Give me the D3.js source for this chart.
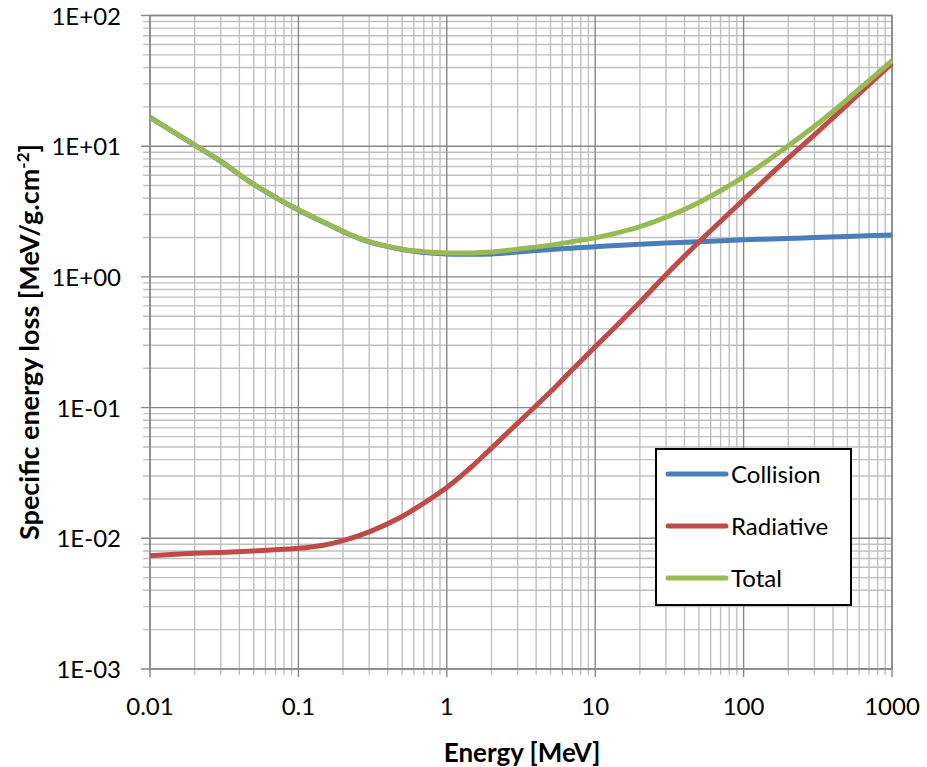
<!DOCTYPE html>
<html>
<head>
<meta charset="utf-8">
<script src="https://cdn.jsdelivr.net/npm/d3@7"></script>
<style>
  body { margin: 0; background: #fff; }
  text { font-family: Lato, "Open Sans", sans-serif; fill: #000; }
</style>
</head>
<body>
<div class="chart"></div>
<script>
// energies in MeV
const energy = [0.01, 0.02, 0.03, 0.05, 0.1, 0.15, 0.2, 0.3, 0.5, 0.7, 1, 1.5, 2, 3, 5, 7, 10, 15, 20, 30, 50, 100, 200, 300, 500, 1000];
const collision = [16.6, 10.2, 7.65, 5.1, 3.25, 2.6, 2.22, 1.85, 1.62, 1.54, 1.50, 1.49, 1.50, 1.55, 1.62, 1.66, 1.70, 1.75, 1.78, 1.82, 1.86, 1.92, 1.97, 2.0, 2.04, 2.09];
const radiative = [0.00736, 0.00767, 0.0078, 0.0080, 0.00838, 0.0089, 0.0096, 0.0112, 0.0147, 0.0186, 0.0245, 0.036, 0.049, 0.076, 0.132, 0.195, 0.292, 0.46, 0.64, 1.04, 1.85, 3.9, 8.1, 12.2, 20.8, 43];
const total = [16.6, 10.2, 7.66, 5.11, 3.26, 2.61, 2.23, 1.86, 1.63, 1.56, 1.525, 1.525, 1.55, 1.63, 1.75, 1.86, 1.99, 2.21, 2.42, 2.86, 3.71, 5.82, 10.07, 14.2, 22.84, 45.1];

const xTicks = [0.01, 0.1, 1, 10, 100, 1000];
const xTickLabels = ["0.01", "0.1", "1", "10", "100", "1000"];
const yTicks = [0.001, 0.01, 0.1, 1, 10, 100];
const yTickLabels = ["1E-03", "1E-02", "1E-01", "1E+00", "1E+01", "1E+02"];

const seriesNames = ["Collision", "Radiative", "Total"];
const seriesColors = ["#4a7ebb", "#be4b48", "#98b954"];

const w = 927, h = 767;
const margin = { top: 15.5, right: 35, bottom: 98, left: 150 };

const svg = d3.select(".chart").append("svg")
  .attr("width", w)
  .attr("height", h);

const x = d3.scaleLog().domain([0.01, 1000]).range([margin.left, w - margin.right]);
const y = d3.scaleLog().domain([0.001, 100]).range([h - margin.bottom, margin.top]);

// minor values for grid (2..9 in each decade)
const minorX = [], minorY = [];
for (let p = -2; p < 3; p++) for (let k = 2; k <= 9; k++) minorX.push(k * Math.pow(10, p));
for (let p = -3; p < 2; p++) for (let k = 2; k <= 9; k++) minorY.push(k * Math.pow(10, p));

const grid = svg.append("g");
grid.selectAll(".mx").data(minorX).enter().append("line")
  .attr("x1", d => x(d)).attr("x2", d => x(d))
  .attr("y1", y.range()[1]).attr("y2", y.range()[0] + 6)
  .attr("stroke", "#c0c0c0").attr("stroke-width", 1.4);
grid.selectAll(".my").data(minorY).enter().append("line")
  .attr("x1", x.range()[0] - 7).attr("x2", x.range()[1])
  .attr("y1", d => y(d)).attr("y2", d => y(d))
  .attr("stroke", "#c0c0c0").attr("stroke-width", 1.4);
grid.selectAll(".Mx").data(xTicks).enter().append("line")
  .attr("x1", d => x(d)).attr("x2", d => x(d))
  .attr("y1", y.range()[1]).attr("y2", y.range()[0] + 8)
  .attr("stroke", "#878787").attr("stroke-width", 1.4);
grid.selectAll(".My").data(yTicks).enter().append("line")
  .attr("x1", x.range()[0] - 9).attr("x2", x.range()[1])
  .attr("y1", d => y(d)).attr("y2", d => y(d))
  .attr("stroke", "#878787").attr("stroke-width", 1.4);

// plot frame
svg.append("rect")
  .attr("x", x.range()[0]).attr("y", y.range()[1])
  .attr("width", x.range()[1] - x.range()[0])
  .attr("height", y.range()[0] - y.range()[1])
  .attr("fill", "none").attr("stroke", "#878787").attr("stroke-width", 1.4);

// tick labels
svg.selectAll(".xl").data(xTicks).enter().append("text")
  .attr("x", d => x(d)).attr("y", y.range()[0] + 46)
  .attr("text-anchor", "middle")
  .style("font-size", "24px")
  .text((d, i) => xTickLabels[i]);
svg.selectAll(".yl").data(yTicks).enter().append("text")
  .attr("x", 121).attr("y", d => y(d) + 9)
  .attr("text-anchor", "end")
  .style("font-size", "24px")
  .text((d, i) => yTickLabels[i]);

// axis titles
svg.append("text")
  .attr("x", 522).attr("y", 762)
  .attr("text-anchor", "middle")
  .style("font-size", "26px").style("font-weight", "bold")
  .text("Energy [MeV]");

const yt = svg.append("text")
  .attr("transform", "translate(39," + 342 + ") rotate(-90)")
  .attr("text-anchor", "middle")
  .style("font-size", "27px").style("font-weight", "bold");
yt.append("tspan").text("Specific energy loss [MeV/g.cm");
yt.append("tspan").attr("dy", -10).style("font-size", "17px").text("-2");
yt.append("tspan").attr("dy", 10).text("]");

// lines
const line = d3.line()
  .x(d => x(d[0]))
  .y(d => y(d[1]))
  .curve(d3.curveCatmullRom.alpha(0.5));

const seriesData = [collision, radiative, total];
seriesData.forEach((vals, i) => {
  svg.append("path")
    .datum(energy.map((e, j) => [e, vals[j]]))
    .attr("d", line)
    .attr("fill", "none")
    .attr("stroke", seriesColors[i])
    .attr("stroke-width", 5)
    .attr("stroke-linejoin", "round");
});

// legend
const lg = svg.append("g");
lg.append("rect")
  .attr("x", 656).attr("y", 449).attr("width", 195).attr("height", 156)
  .attr("fill", "#fff").attr("stroke", "#000").attr("stroke-width", 2);
seriesNames.forEach((name, i) => {
  const yy = 474 + i * 52;
  lg.append("line")
    .attr("x1", 668).attr("x2", 726).attr("y1", yy).attr("y2", yy)
    .attr("stroke", seriesColors[i]).attr("stroke-width", 5)
    .attr("stroke-linecap", "round");
  lg.append("text")
    .attr("x", 731).attr("y", yy + 9)
    .style("font-size", "24px")
    .text(name);
});
</script>
</body>
</html>
